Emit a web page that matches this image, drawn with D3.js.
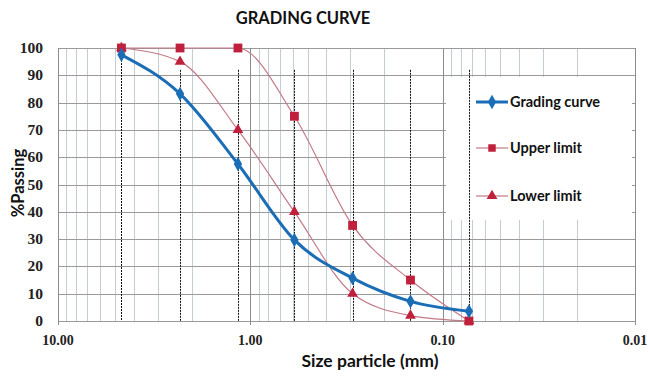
<!DOCTYPE html>
<html><head><meta charset="utf-8">
<script src="https://cdn.jsdelivr.net/npm/d3@7/dist/d3.min.js"></script>
<style>
body{margin:0;background:#fff;}
svg{display:block;}
</style></head>
<body>
<svg id="chart" width="650" height="376"></svg>
<script>
// ---- data ----
const sieveSizes = [4.68, 2.32, 1.16, 0.59, 0.294, 0.147, 0.073];
const gradingCurve = [97.5, 83.2, 57.5, 29.7, 15.7, 7.2, 3.6];
const upperLimit = [100, 100, 100, 75, 35, 15, 0];
const lowerLimit = [100, 95, 70, 40, 10, 2, 0];
const dropTop = [100, 92, 92, 92, 92, 92, 92];
const xTickValues = [10, 1, 0.1, 0.01];
const xTickLabels = ["10.00", "1.00", "0.10", "0.01"];
const yTickValues = [0, 10, 20, 30, 40, 50, 60, 70, 80, 90, 100];
const seriesNames = ["Grading curve", "Upper limit", "Lower limit"];

const svg = d3.select("#chart");
const L = 58, R = 635, T = 48, B = 321;
const x = d3.scaleLog().domain([10, 0.01]).range([L, R]);
const y = d3.scaleLinear().domain([0, 100]).range([B, T]);

// minor vertical grid
const minor = [];
[1, 0.1, 0.01].forEach(d => { for (let k = 2; k <= 9; k++) minor.push(d * k); });
svg.append("g").selectAll("line").data(minor).join("line")
  .attr("x1", d => x(d)).attr("x2", d => x(d)).attr("y1", T).attr("y2", B)
  .attr("stroke", "#c4ccd8").attr("stroke-width", 1).attr("shape-rendering", "crispEdges");
// horizontal grid
svg.append("g").selectAll("line").data(yTickValues).join("line")
  .attr("x1", L).attr("x2", R).attr("y1", d => Math.round(y(d)) + 0.5).attr("y2", d => Math.round(y(d)) + 0.5)
  .attr("stroke", "#9a9a9a").attr("stroke-width", 1);
// major vertical grid
svg.append("g").selectAll("line").data(xTickValues).join("line")
  .attr("x1", d => Math.round(x(d)) + 0.5).attr("x2", d => Math.round(x(d)) + 0.5).attr("y1", T).attr("y2", B + 4)
  .attr("stroke", "#8c8c8c").attr("stroke-width", 1);

// legend background (hides grid)
const lg = svg.append("g");
lg.append("rect").attr("x", 446).attr("y", 77).attr("width", 186).attr("height", 143).attr("fill", "#fff");

// dashed drop lines
svg.append("g").selectAll("line").data(sieveSizes).join("line")
  .attr("x1", d => Math.round(x(d)) + 0.5).attr("x2", d => Math.round(x(d)) + 0.5)
  .attr("y1", (d, i) => y(dropTop[i])).attr("y2", B)
  .attr("stroke", "#111").attr("stroke-width", 1).attr("stroke-dasharray", "2,1");

// axes text
svg.append("g").selectAll("text").data(yTickValues).join("text")
  .attr("x", 43).attr("y", d => y(d) + 5).attr("text-anchor", "end")
  .attr("font-family", "'Liberation Serif', serif").attr("font-weight", "bold").attr("font-size", 15.5)
  .attr("fill", "#222").text(d => d);
svg.append("g").selectAll("text").data(xTickValues).join("text")
  .attr("x", d => x(d)).attr("y", 345).attr("text-anchor", "middle")
  .attr("font-family", "'Liberation Serif', serif").attr("font-weight", "bold").attr("font-size", 14)
  .attr("fill", "#222").text((d, i) => xTickLabels[i]);

svg.append("text").attr("x", 303).attr("y", 24).attr("text-anchor", "middle")
  .attr("font-family", "Lato").attr("font-weight", "bold").attr("font-size", 16.5)
  .attr("fill", "#111").text("GRADING CURVE");
svg.append("text").attr("x", 370).attr("y", 367).attr("text-anchor", "middle")
  .attr("font-family", "Lato").attr("font-weight", "bold").attr("font-size", 17.5)
  .attr("fill", "#111").text("Size particle (mm)");
svg.append("text").attr("transform", "translate(24,183) rotate(-90)").attr("text-anchor", "middle")
  .attr("font-family", "Lato").attr("font-weight", "bold").attr("font-size", 16.5)
  .attr("fill", "#111").text("%Passing");

// series
const smooth = d3.line().curve(d3.curveMonotoneX).x(d => x(d[0])).y(d => y(d[1]));
const zip = vals => sieveSizes.map((s, i) => [s, vals[i]]);
const limColor = "#c27a86", markColor = "#c0203c", blue = "#1b6db5";

svg.append("path").datum(zip(upperLimit)).attr("d", smooth).attr("fill", "none").attr("stroke", limColor).attr("stroke-width", 1.2);
svg.append("path").datum(zip(lowerLimit)).attr("d", smooth).attr("fill", "none").attr("stroke", limColor).attr("stroke-width", 1.2);
svg.append("path").datum(zip(gradingCurve)).attr("d", smooth).attr("fill", "none").attr("stroke", blue).attr("stroke-width", 3);

const sq = d3.symbol().type(d3.symbolSquare).size(78);
const tri = d3.symbol().type(d3.symbolTriangle).size(50);
const dia = d3.symbol().type(d3.symbolDiamond).size(60);

svg.append("g").selectAll("path").data(zip(lowerLimit)).join("path")
  .attr("transform", d => `translate(${x(d[0])},${y(d[1])})`).attr("d", tri).attr("fill", markColor);
svg.append("g").selectAll("path").data(zip(upperLimit)).join("path")
  .attr("transform", d => `translate(${x(d[0])},${y(d[1])})`).attr("d", sq).attr("fill", markColor);
svg.append("g").selectAll("path").data(zip(gradingCurve)).join("path")
  .attr("transform", d => `translate(${x(d[0])},${y(d[1])})`).attr("d", dia).attr("fill", blue);

// legend items
const legY = [102, 148, 196];
const legStyles = [
  {color: blue, w: 3, sym: dia},
  {color: limColor, w: 1.2, sym: d3.symbol().type(d3.symbolSquare).size(56)},
  {color: limColor, w: 1.2, sym: tri}
];
seriesNames.forEach((name, i) => {
  const g = lg.append("g");
  g.append("line").attr("x1", 476).attr("x2", 508).attr("y1", legY[i]).attr("y2", legY[i])
    .attr("stroke", legStyles[i].color).attr("stroke-width", legStyles[i].w);
  g.append("path").attr("transform", `translate(492,${legY[i]})`)
    .attr("d", legStyles[i].sym())
    .attr("fill", i === 0 ? blue : markColor);
  g.append("text").attr("x", 510).attr("y", legY[i] + 5)
    .attr("font-family", "Lato").attr("font-weight", "bold").attr("font-size", 14.5)
    .attr("fill", "#111").text(name);
});
</script>
</body></html>
